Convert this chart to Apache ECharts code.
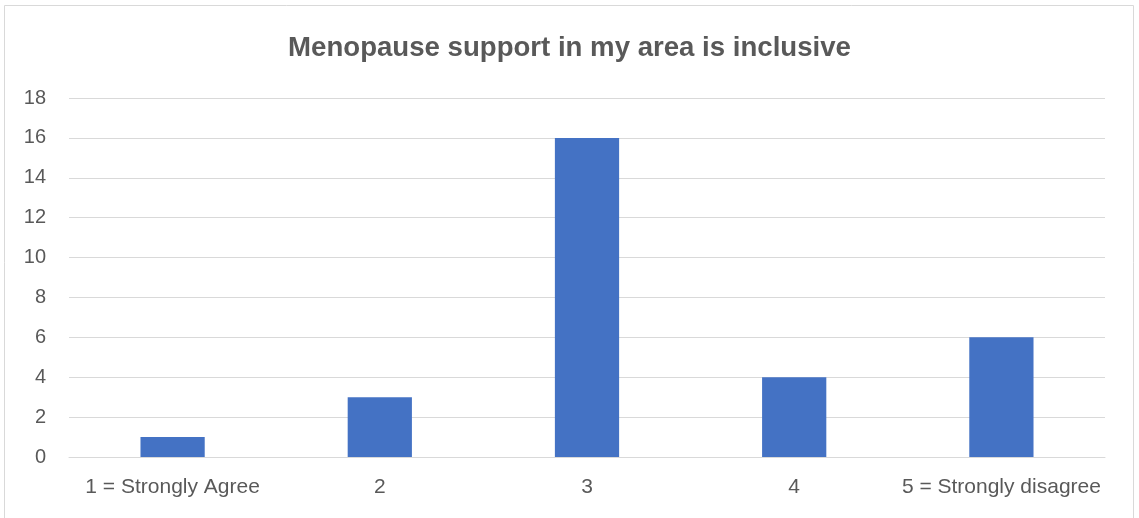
<!DOCTYPE html>
<html>
<head>
<meta charset="utf-8">
<script src="https://cdn.jsdelivr.net/npm/echarts@6/dist/echarts.min.js"></script>
<style>
  html, body { margin: 0; padding: 0; background: #fff; }
  #chart { width: 1139px; height: 518px; }
</style>
</head>
<body>
<div id="chart"></div>
<script>
const categories = ['1 = Strongly Agree', '2', '3', '4', '5 = Strongly disagree'];
const counts = [1, 3, 16, 4, 6];
const titleText = 'Menopause support in my area is inclusive';

const chart = echarts.init(document.getElementById('chart'), null, { renderer: 'canvas' });
const textGray = '#595959';
const fontFam = '"Liberation Sans", "Open Sans", sans-serif';

chart.setOption({
  animation: false,
  title: {
    text: titleText,
    left: 'center',
    top: 29,
    textStyle: { color: textGray, fontSize: 27.6, fontWeight: 'bold', fontFamily: fontFam }
  },
  graphic: [{
    type: 'rect',
    shape: { x: 4.5, y: 5.5, width: 1129, height: 530 },
    style: { fill: 'none', stroke: '#d9d9d9', lineWidth: 1 },
    silent: true
  }],
  grid: { left: 69, right: 34, top: 98, bottom: 61 },
  xAxis: {
    type: 'category',
    data: categories,
    axisLine: { show: true, lineStyle: { color: '#d9d9d9', width: 1 } },
    axisTick: { show: false },
    axisLabel: { color: textGray, fontSize: 21, fontFamily: fontFam, margin: 20, interval: 0 }
  },
  yAxis: {
    type: 'value',
    min: 0,
    max: 18,
    interval: 2,
    axisLine: { show: false },
    axisTick: { show: false },
    splitLine: { lineStyle: { color: '#d9d9d9', width: 1 } },
    axisLabel: { color: textGray, fontSize: 20, fontFamily: fontFam, margin: 23 }
  },
  series: [{
    type: 'bar',
    data: counts,
    barWidth: '31%',
    itemStyle: { color: '#4472c4' }
  }]
});
</script>
</body>
</html>
